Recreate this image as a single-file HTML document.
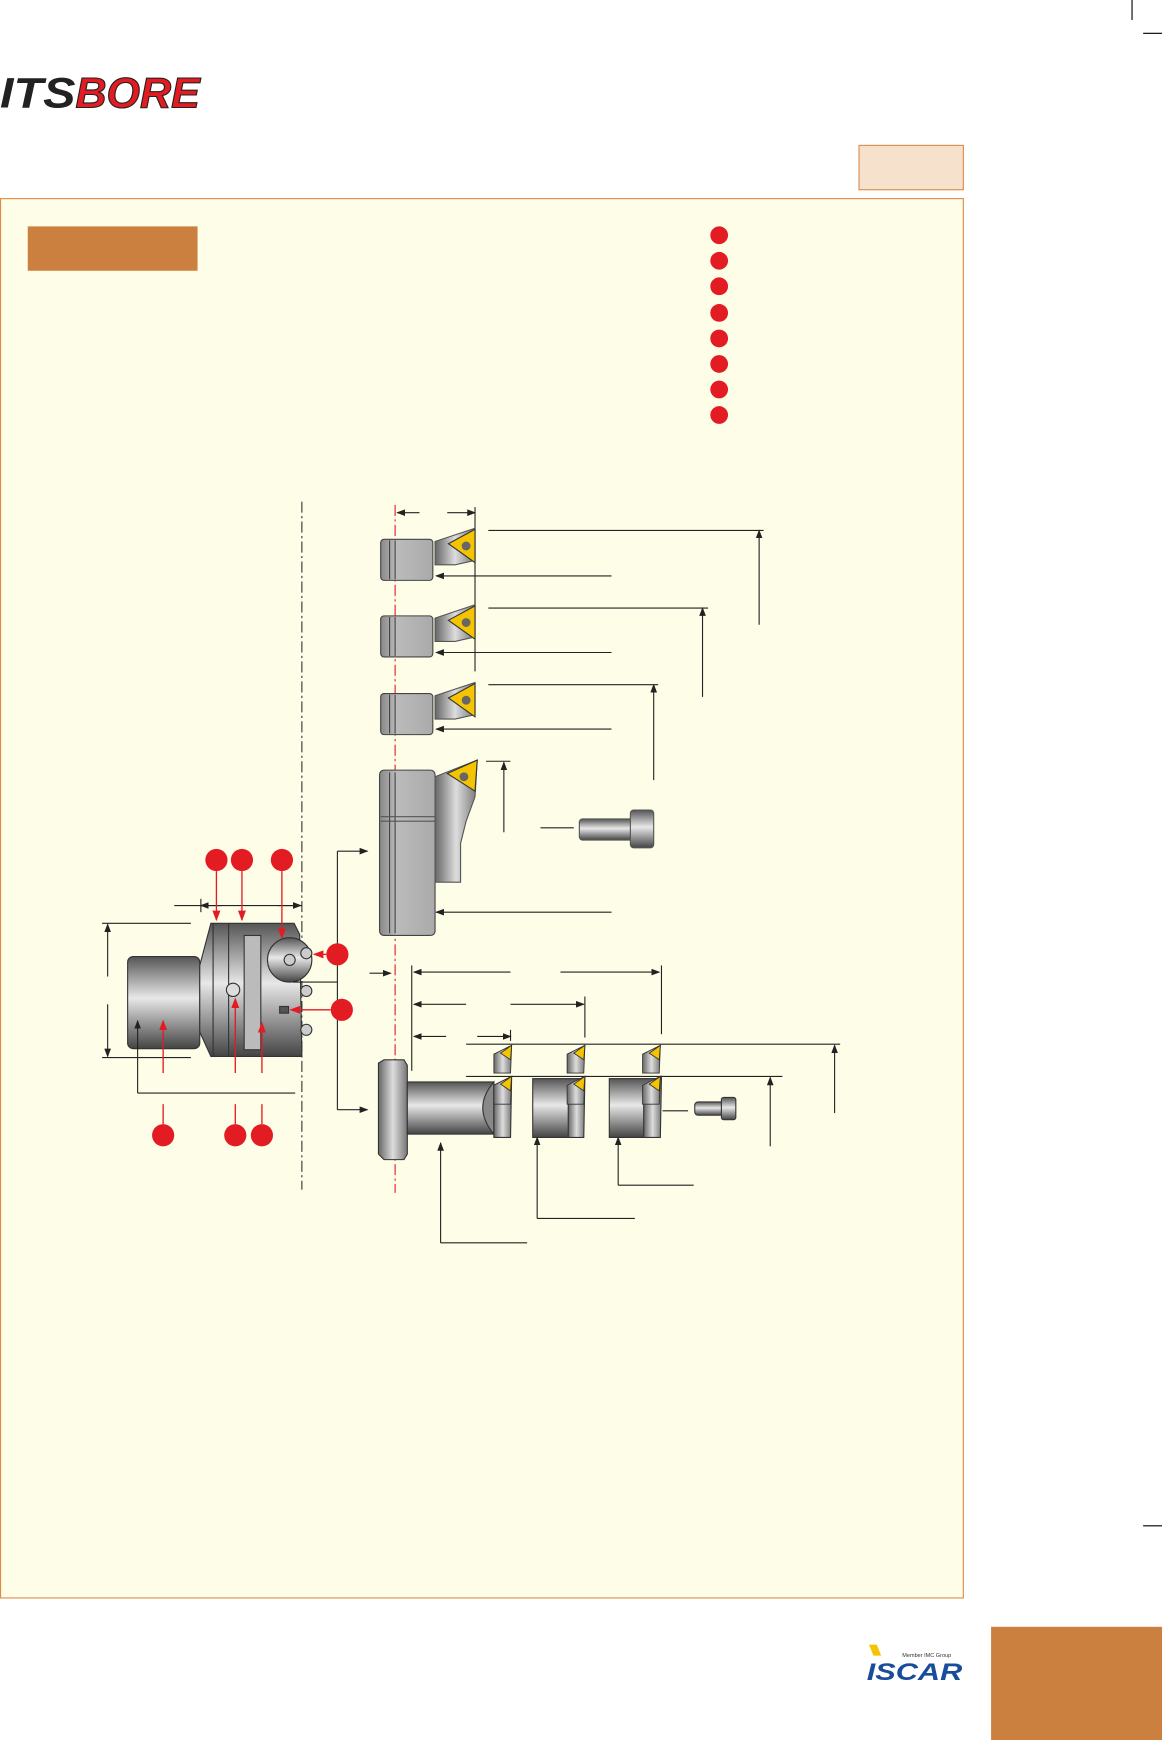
<!DOCTYPE html>
<html><head><meta charset="utf-8"><style>
html,body{margin:0;padding:0;background:#fff;}
svg{display:block;}
</style></head><body>
<svg width="1162" height="1740" viewBox="0 0 1047 1568" preserveAspectRatio="none" xmlns="http://www.w3.org/2000/svg" font-family="Liberation Sans, sans-serif">
<defs>
<linearGradient id="mv" x1="0" y1="0" x2="0" y2="1">
<stop offset="0" stop-color="#555"/><stop offset="0.45" stop-color="#e8e8e8"/><stop offset="1" stop-color="#444"/></linearGradient>
<linearGradient id="mh" x1="0" y1="0" x2="1" y2="0">
<stop offset="0" stop-color="#666"/><stop offset="0.5" stop-color="#ddd"/><stop offset="1" stop-color="#777"/></linearGradient>
<linearGradient id="gr" x1="0" y1="0" x2="1" y2="0">
<stop offset="0" stop-color="#888"/><stop offset="0.3" stop-color="#bbb"/><stop offset="1" stop-color="#aaa"/></linearGradient>
<marker id="a" markerWidth="8" markerHeight="6" refX="7" refY="3" orient="auto"><path d="M0,0 L8,3 L0,6 z" fill="#222"/></marker>
<marker id="r" markerWidth="8" markerHeight="6" refX="7" refY="3" orient="auto"><path d="M0,0 L8,3 L0,6 z" fill="#e31b23"/></marker>
</defs>
<!-- crop marks -->
<g stroke="#000" stroke-width="1">
<line x1="1020" y1="0" x2="1020" y2="18"/><line x1="1030" y1="30" x2="1047" y2="30"/>
<line x1="1030" y1="1375" x2="1047" y2="1375"/><line x1="1030" y1="1535" x2="1047" y2="1535"/><line x1="1020" y1="1550" x2="1020" y2="1568"/>
</g>
<!-- logo -->
<text x="0" y="97" font-size="38" font-weight="bold" font-style="italic" fill="#222" textLength="68" lengthAdjust="spacingAndGlyphs">ITS</text>
<text x="68" y="97" font-size="38" font-weight="bold" font-style="italic" fill="#e31b23" stroke="#222" stroke-width="1" textLength="112" lengthAdjust="spacingAndGlyphs">BORE</text>
<rect x="774" y="131" width="94" height="40" fill="#f5e1cc" stroke="#d98a4a" stroke-width="1"/>
<rect x="0.5" y="179" width="867.5" height="1261" fill="#fefee8" stroke="#e08a45" stroke-width="1"/>
<rect x="25" y="204" width="153" height="40" fill="#cc8040"/>
<g fill="#e31b23">
<circle cx="648" cy="212" r="8"/><circle cx="648" cy="235" r="8"/><circle cx="648" cy="258" r="8"/><circle cx="648" cy="282" r="8"/>
<circle cx="648" cy="305" r="8"/><circle cx="648" cy="328" r="8"/><circle cx="648" cy="351" r="8"/><circle cx="648" cy="374" r="8"/>
</g>
<!-- centerlines -->
<line x1="356" y1="455" x2="356" y2="1075" stroke="#e31b23" stroke-width="1" stroke-dasharray="10,3,2,3"/>
<line x1="272" y1="452" x2="272" y2="1072" stroke="#333" stroke-width="1" stroke-dasharray="10,3,2,3"/>
<!-- dims top -->
<g stroke="#222" stroke-width="1" fill="none">
<line x1="378" y1="462" x2="358" y2="462" marker-end="url(#a)"/><line x1="403" y1="462" x2="428" y2="462" marker-end="url(#a)"/>
<line x1="428" y1="457" x2="428" y2="605"/>
<line x1="440" y1="478" x2="688" y2="478"/><line x1="684" y1="563" x2="684" y2="478" marker-end="url(#a)"/>
<line x1="551" y1="519" x2="393" y2="519" marker-end="url(#a)"/>
<line x1="440" y1="548" x2="638" y2="548"/><line x1="633" y1="628" x2="633" y2="548" marker-end="url(#a)"/>
<line x1="551" y1="588" x2="393" y2="588" marker-end="url(#a)"/>
<line x1="440" y1="617" x2="593" y2="617"/><line x1="589" y1="703" x2="589" y2="617" marker-end="url(#a)"/>
<line x1="551" y1="657" x2="393" y2="657" marker-end="url(#a)"/>
<line x1="438" y1="686" x2="460" y2="686"/><line x1="454" y1="750" x2="454" y2="687" marker-end="url(#a)"/>
<line x1="487" y1="746" x2="517" y2="746"/>
<line x1="551" y1="822" x2="393" y2="822" marker-end="url(#a)"/>
</g>
<!-- three small holders -->
<g id="h1">
<rect x="343" y="486" width="47" height="37" rx="3" fill="url(#gr)" stroke="#444"/>
<line x1="351" y1="487" x2="351" y2="522" stroke="#444"/><line x1="356" y1="487" x2="356" y2="522" stroke="#444"/>
<path d="M392,488 L428,476 L428,505 L410,509 L392,509 z" fill="url(#mh)" stroke="#555"/>
<path d="M404,490 L428,477 L428,507 z" fill="#f5c400" stroke="#333"/>
<circle cx="420" cy="492" r="4" fill="#666"/>
</g>
<use href="#h1" y="69"/><use href="#h1" y="139"/>
<!-- big holder -->
<rect x="342" y="694" width="50" height="149" rx="4" fill="url(#gr)" stroke="#444"/>
<line x1="351" y1="696" x2="351" y2="841" stroke="#444"/><line x1="356" y1="696" x2="356" y2="841" stroke="#444"/>
<line x1="343" y1="736" x2="392" y2="736" stroke="#555"/><line x1="343" y1="740" x2="392" y2="740" stroke="#555"/>
<path d="M392,700 L430,685 L428,718 L420,740 L415,760 L415,795 L392,795 z" fill="url(#mh)" stroke="#555"/>
<path d="M403,697 L430,685 L428,713 z" fill="#f5c400" stroke="#333"/>
<circle cx="418" cy="700" r="4" fill="#666"/>
<!-- screw -->
<rect x="522" y="738" width="50" height="19" rx="3" fill="url(#mv)" stroke="#555"/>
<rect x="568" y="730" width="21" height="34" rx="3" fill="url(#mv)" stroke="#555"/>
<!-- head assembly -->
<g stroke="#333" stroke-width="1">
<rect x="115" y="862" width="65" height="83" rx="5" fill="url(#mv)"/>
<path d="M180,870 L190,832 L265,832 L270,842 L272,952 L190,952 L180,930 z" fill="url(#mv)"/>
<line x1="192" y1="832" x2="192" y2="952"/><line x1="206" y1="832" x2="206" y2="952"/>
<rect x="220" y="843" width="15" height="103" fill="#bbb"/>
<circle cx="261" cy="865" r="20" fill="url(#mv)"/><circle cx="261" cy="865" r="5" fill="#ccc"/>
<circle cx="210" cy="892" r="6" fill="#ddd"/>
<rect x="252" y="907" width="8" height="6" fill="#555"/>
<circle cx="276" cy="859" r="5" fill="#ccc"/><circle cx="276" cy="893" r="5" fill="#ccc"/><circle cx="276" cy="928" r="5" fill="#ccc"/>
</g>
<!-- head dims -->
<g stroke="#222" stroke-width="1" fill="none">
<line x1="157" y1="816" x2="272" y2="816"/><line x1="200" y1="816" x2="181" y2="816" marker-end="url(#a)"/><line x1="250" y1="816" x2="271" y2="816" marker-end="url(#a)"/>
<line x1="181" y1="810" x2="181" y2="822"/>
<line x1="92" y1="832" x2="172" y2="832"/><line x1="92" y1="953" x2="172" y2="953"/>
<line x1="97" y1="880" x2="97" y2="833" marker-end="url(#a)"/><line x1="97" y1="905" x2="97" y2="952" marker-end="url(#a)"/>
<line x1="124" y1="985" x2="266" y2="985"/><line x1="124" y1="985" x2="124" y2="920" marker-end="url(#a)"/>
<line x1="264" y1="885" x2="304" y2="885"/>
<line x1="304" y1="767" x2="304" y2="1000"/>
<line x1="304" y1="767" x2="331" y2="767" marker-end="url(#a)"/>
<line x1="304" y1="1000" x2="331" y2="1000" marker-end="url(#a)"/>
<line x1="333" y1="877" x2="352" y2="877" marker-end="url(#a)"/>
<line x1="371" y1="870" x2="371" y2="965"/>
<line x1="460" y1="876" x2="373" y2="876" marker-end="url(#a)"/><line x1="505" y1="876" x2="594" y2="876" marker-end="url(#a)"/><line x1="596" y1="870" x2="596" y2="932"/>
<line x1="420" y1="905" x2="373" y2="905" marker-end="url(#a)"/><line x1="460" y1="905" x2="526" y2="905" marker-end="url(#a)"/><line x1="527" y1="898" x2="527" y2="935"/>
<line x1="402" y1="934" x2="373" y2="934" marker-end="url(#a)"/><line x1="430" y1="934" x2="460" y2="934" marker-end="url(#a)"/><line x1="460" y1="928" x2="460" y2="938"/>
<line x1="420" y1="941" x2="757" y2="941"/><line x1="752" y1="1003" x2="752" y2="942" marker-end="url(#a)"/>
<line x1="420" y1="970" x2="705" y2="970"/><line x1="694" y1="1033" x2="694" y2="971" marker-end="url(#a)"/>
<line x1="397" y1="1120" x2="397" y2="1030" marker-end="url(#a)"/><line x1="397" y1="1120" x2="475" y2="1120"/>
<line x1="484" y1="1098" x2="484" y2="1025" marker-end="url(#a)"/><line x1="484" y1="1098" x2="572" y2="1098"/>
<line x1="557" y1="1068" x2="557" y2="1025" marker-end="url(#a)"/><line x1="557" y1="1068" x2="625" y2="1068"/>
<line x1="597" y1="1001" x2="620" y2="1001"/>
</g>
<!-- red callouts -->
<g stroke="#e31b23" stroke-width="1.2" fill="none">
<line x1="195" y1="785" x2="195" y2="829" marker-end="url(#r)"/>
<line x1="218" y1="785" x2="218" y2="829" marker-end="url(#r)"/>
<line x1="254" y1="785" x2="254" y2="845" marker-end="url(#r)"/>
<line x1="294" y1="860" x2="283" y2="860" marker-end="url(#r)"/>
<line x1="298" y1="910" x2="262" y2="910" marker-end="url(#r)"/>
<line x1="147" y1="967" x2="147" y2="920" marker-end="url(#r)"/>
<line x1="212" y1="967" x2="212" y2="900" marker-end="url(#r)"/>
<line x1="236" y1="967" x2="236" y2="922" marker-end="url(#r)"/>
<line x1="147" y1="995" x2="147" y2="1013"/><line x1="212" y1="995" x2="212" y2="1013"/><line x1="236" y1="995" x2="236" y2="1013"/>
</g>
<g fill="#e31b23">
<circle cx="195" cy="775" r="10"/><circle cx="218" cy="775" r="10"/><circle cx="254" cy="775" r="10"/>
<circle cx="304" cy="860" r="10"/><circle cx="308" cy="910" r="10"/>
<circle cx="147" cy="1023" r="10"/><circle cx="212" cy="1023" r="10"/><circle cx="236" cy="1023" r="10"/>
</g>
<!-- boring bar -->
<g stroke="#333" stroke-width="1">
<path d="M341,958 L346,955 L364,955 L367,960 L367,1040 L364,1045 L346,1045 L341,1040 z" fill="url(#mh)"/>
<rect x="367" y="975" width="78" height="47" fill="url(#mv)"/>
<path d="M445,975 Q425,998 445,1022 z" fill="#888"/>
<rect x="480" y="972" width="42" height="53" fill="url(#mv)"/>
<rect x="549" y="972" width="42" height="53" fill="url(#mv)"/>
<path d="M445,978 L461,970 L460,1025 L445,1025 z" fill="url(#mh)"/>
<path d="M512,978 L527,970 L526,1025 L512,1025 z" fill="url(#mh)"/>
<path d="M580,978 L596,970 L595,1025 L580,1025 z" fill="url(#mh)"/>
<rect x="626" y="993" width="26" height="12" rx="3" fill="url(#mv)"/><rect x="650" y="989" width="13" height="20" rx="2" fill="url(#mv)"/>
</g>
<g id="si" stroke="#333" stroke-width="0.8">
<path d="M445,950 L461,942 L460,967 L445,967 z" fill="url(#mh)"/>
<path d="M451,949 L461,942 L460,955 z" fill="#f5c400"/>
</g>
<use href="#si" x="66"/><use href="#si" x="134"/>
<use href="#si" y="28"/><use href="#si" x="66" y="28"/><use href="#si" x="134" y="28"/>
<!-- footer -->
<text x="813" y="1493" font-size="5" fill="#333">Member IMC Group</text>
<text x="781" y="1514" font-size="22" font-weight="bold" font-style="italic" fill="#1a4c9c" textLength="86" lengthAdjust="spacingAndGlyphs">ISCAR</text>
<path d="M783,1482 L790,1482 L794,1492 L787,1492 z" fill="#f5c400"/>
<rect x="893" y="1466" width="154" height="102" fill="#cc8040"/>
</svg>
</body></html>
